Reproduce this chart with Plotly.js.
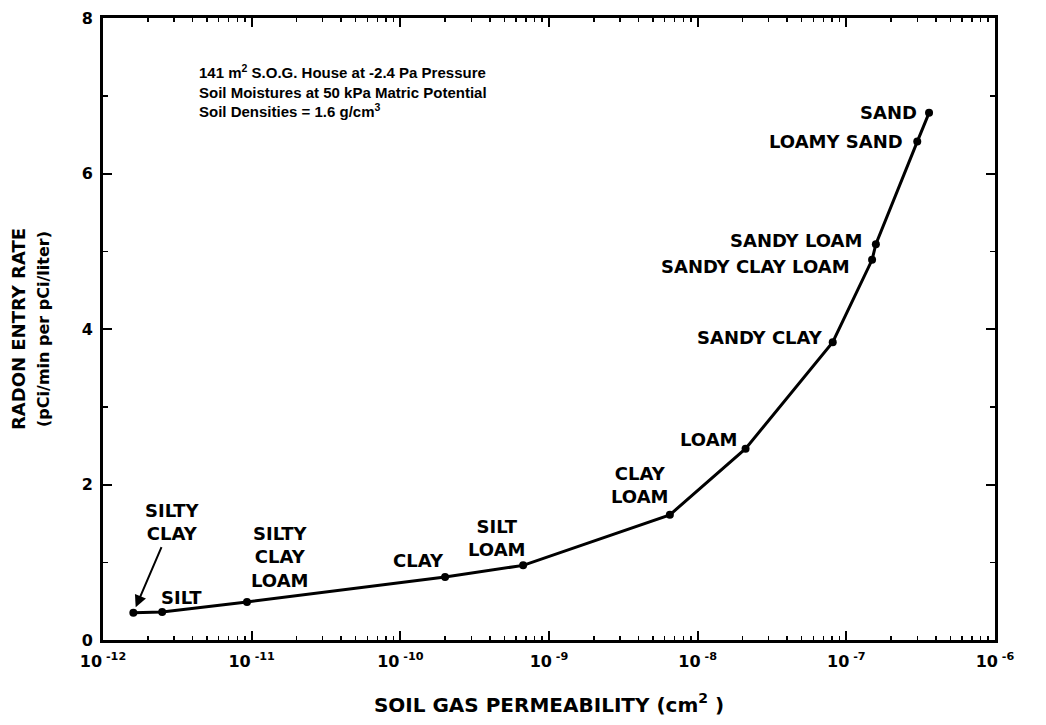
<!DOCTYPE html>
<html>
<head>
<meta charset="utf-8">
<script src="https://cdn.plot.ly/plotly-3.0.1.min.js"></script>
<style>html,body{margin:0;padding:0;background:#fff}#chart{width:1046px;height:725px}</style>
</head>
<body>
<div id="chart"></div>
<script>
// ---- data ----
const soilNames = ["SILTY<br>CLAY", "SILT", "SILTY<br>CLAY<br>LOAM", "CLAY", "SILT<br>LOAM", "CLAY<br>LOAM", "LOAM",
                   "SANDY CLAY", "SANDY CLAY LOAM", "SANDY LOAM", "LOAMY SAND", "SAND"];
const permeability = [1.6e-12, 2.5e-12, 9.3e-12, 2.0e-10, 6.7e-10, 6.5e-9, 2.1e-8,
                      8.1e-8, 1.49e-7, 1.58e-7, 3.0e-7, 3.6e-7];
const radonRate = [0.35, 0.36, 0.49, 0.81, 0.96, 1.61, 2.46, 3.83, 4.89, 5.09, 6.41, 6.78];
const xTickVals = [1e-12, 1e-11, 1e-10, 1e-9, 1e-8, 1e-7, 1e-6];
const xTickText = ["10<sup> -12</sup>", "10<sup> -11</sup>", "10<sup> -10</sup>", "10<sup> -9</sup>",
                   "10<sup> -8</sup>", "10<sup> -7</sup>", "10<sup> -6</sup>"];
const yTickVals = [0, 2, 4, 6, 8];

// ---- label placement (pixel offsets from each point) ----
const labelStyle = [
  {dx: 39, dy: -91, anchor: "center", arrow: true},
  {dx: 19, dy: -15, anchor: "center"},
  {dx: 33, dy: -45, anchor: "center"},
  {dx: -27, dy: -17, anchor: "center"},
  {dx: -26, dy: -27, anchor: "center"},
  {dx: -30, dy: -30, anchor: "center"},
  {dx: -37, dy: -9, anchor: "center"},
  {dx: -8, dy: -5, anchor: "right"},
  {dx: -20, dy: 7, anchor: "right"},
  {dx: -12, dy: -4, anchor: "right"},
  {dx: -12, dy: 0, anchor: "right"},
  {dx: -10, dy: 0, anchor: "right"}
];

const FONT = "Liberation Sans, Arial, sans-serif";
const WIDE = "DejaVu Sans, Liberation Sans, sans-serif";
const labelFont = {family: WIDE, size: 18, color: "#000", weight: 700};

const annotations = soilNames.map((name, i) => {
  const s = labelStyle[i];
  const a = {
    x: Math.log10(permeability[i]), y: radonRate[i], xref: "x", yref: "y",
    text: "<b>" + name + "</b>", font: labelFont, align: "center"
  };
  if (s.arrow) {
    Object.assign(a, {showarrow: true, ax: s.dx, ay: s.dy, arrowhead: 2, arrowsize: 1.2,
                      arrowwidth: 2, arrowcolor: "#000", standoff: 6, startstandoff: 2});
  } else {
    Object.assign(a, {showarrow: false, xshift: s.dx, yshift: -s.dy,
                      xanchor: s.anchor, yanchor: "middle"});
  }
  return a;
});

annotations.push({
  xref: "paper", yref: "paper", x: 0.105, y: 0.933, xanchor: "left", yanchor: "top",
  showarrow: false, align: "left",
  text: "<b>141 m<sup>2</sup> S.O.G. House at -2.4 Pa Pressure<br>Soil Moistures at 50 kPa Matric Potential<br>Soil Densities = 1.6 g/cm<sup>3</sup></b>",
  font: {family: FONT, size: 15, color: "#000"}
});

const trace = {
  x: permeability, y: radonRate, type: "scatter", mode: "lines+markers",
  line: {color: "#000", width: 3},
  marker: {color: "#000", size: 8},
  hoverinfo: "x+y"
};

const layout = {
  width: 1046, height: 725,
  margin: {l: 103, r: 51, t: 18, b: 85},
  paper_bgcolor: "#fff", plot_bgcolor: "#fff",
  showlegend: false,
  font: {family: FONT, color: "#000"},
  xaxis: {
    type: "log", range: [-12, -6],
    tickmode: "array", tickvals: xTickVals, ticktext: xTickText,
    ticks: "inside", ticklen: 9, tickwidth: 2, tickcolor: "#000",
    minor: {ticks: "inside", ticklen: 4, tickwidth: 1.5, tickcolor: "#000", dtick: "D1", showgrid: false},
    showline: true, linecolor: "#000", linewidth: 3, mirror: "ticks",
    showgrid: false, zeroline: false, ticklabelstandoff: 5,
    tickfont: {family: WIDE, size: 16, color: "#000", weight: 700},
    title: {text: "<b>SOIL GAS PERMEABILITY (cm<sup>2</sup> )</b>", font: {family: WIDE, size: 20, color: "#000"}, standoff: 28}
  },
  yaxis: {
    range: [0, 8], tickmode: "array", tickvals: yTickVals,
    ticks: "inside", ticklen: 9, tickwidth: 2, tickcolor: "#000",
    minor: {ticks: "inside", ticklen: 5, tickwidth: 1.5, tickcolor: "#000", dtick: 1, showgrid: false},
    showline: true, linecolor: "#000", linewidth: 3, mirror: "ticks",
    showgrid: false, zeroline: false, ticklabelstandoff: 4,
    tickfont: {family: WIDE, size: 16, color: "#000", weight: 700},
    title: {text: "<b>RADON ENTRY RATE<br><span style=\"font-size:16px\">(pCi/min per pCi/liter)</span></b>", font: {family: WIDE, size: 18, color: "#000"}, standoff: 28}
  },
  annotations: annotations
};

Plotly.newPlot("chart", [trace], layout, {displayModeBar: false, staticPlot: true});
</script>
</body>
</html>
